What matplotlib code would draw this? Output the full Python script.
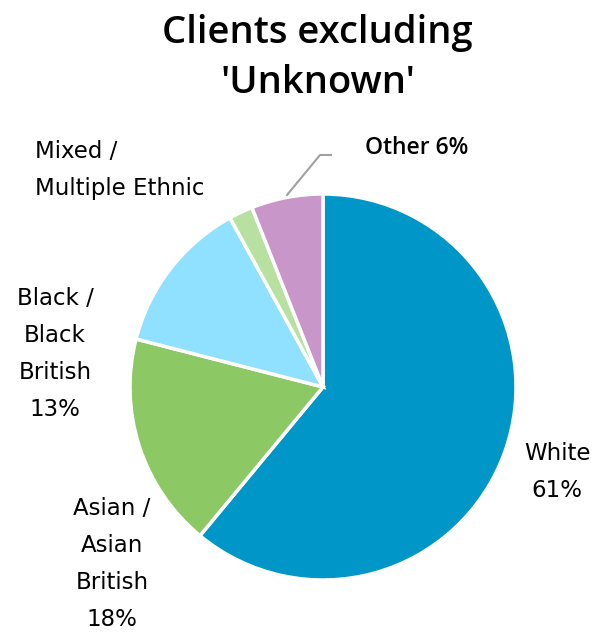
import matplotlib
matplotlib.use("Agg")
import matplotlib.pyplot as plt

# Client ethnicity shares (percent), clockwise from 12 o'clock
categories = ["White", "Asian / Asian British", "Black / Black British",
              "Mixed / Multiple Ethnic", "Other"]
values = [61, 18, 13, 2, 6]
colors = ["#0096c8", "#8cc864", "#90e0ff", "#b8e0a0", "#c896c8"]

W, H = 601, 633
fig = plt.figure(figsize=(W / 100, H / 100), dpi=100)
ax = fig.add_axes([0, 0, 1, 1])

cx, cy, r = 323, H - 387, 193
ax.pie(values, colors=colors, startangle=90, counterclock=False,
       center=(cx, cy), radius=r, frame=True,
       wedgeprops=dict(edgecolor="white", linewidth=2.5))
ax.set_xlim(0, W)
ax.set_ylim(0, H)
ax.set_aspect("equal")
ax.axis("off")

font = "DejaVu Sans"
bold_font = ["Open Sans", "DejaVu Sans"]
lab = dict(fontsize=16.5, family=font, color="black", linespacing=1.78)

ax.text(W / 2 + 17, H - 58, "Clients excluding\n'Unknown'", ha="center", va="center",
        fontsize=27.5, family=bold_font, fontweight="semibold", linespacing=1.38)

ax.text(557, H - 472, f"{categories[0]}\n{values[0]}%", ha="center", va="center", **lab)
ax.text(112, H - 564, "Asian /\nAsian\nBritish\n" + f"{values[1]}%",
        ha="center", va="center", **lab)
ax.text(55, H - 354, "Black /\nBlack\nBritish\n" + f"{values[2]}%",
        ha="center", va="center", **lab)
ax.text(35, H - 170, "Mixed /\nMultiple Ethnic", ha="left", va="center", **lab)
ax.text(417, H - 148, f"{categories[4]} {values[4]}%", ha="center", va="center",
        fontsize=16.5, family=bold_font, fontweight="semibold")

# leader line for the small "Other" slice
ax.plot([287, 320, 331], [H - 195, H - 155, H - 155], color="#a0a0a0", lw=1.5)

fig.savefig("out.png", dpi=100, facecolor="white")
